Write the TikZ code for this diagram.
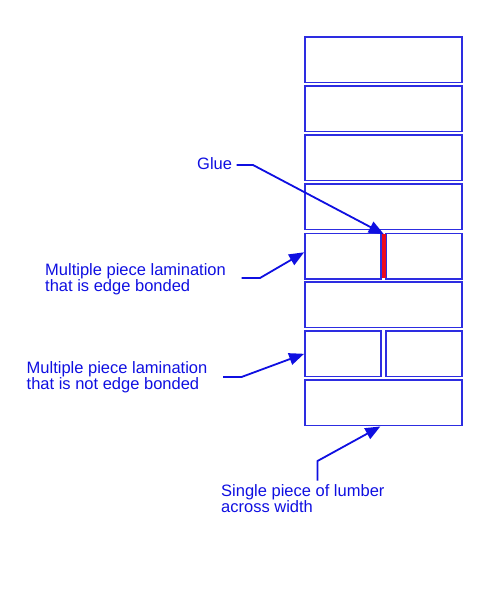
\documentclass[tikz,border=0pt]{standalone}
\usepackage{fontspec}
\setmainfont{Liberation Sans}
\usetikzlibrary{arrows.meta,calc}
\definecolor{lineblue}{RGB}{15,15,225}
\definecolor{boxblue}{RGB}{45,45,225}
\definecolor{gluered}{RGB}{235,10,30}
\begin{document}
\begin{tikzpicture}[x=1pt,y=-1pt,
  board/.style={draw=boxblue,line width=1.8pt,fill=white,inner sep=0pt,minimum height=45.5pt},
  full/.style={board,minimum width=156.7pt},
  half/.style={board,minimum width=76pt},
  label/.style={text=lineblue,anchor=north west,inner sep=0pt,align=left,font=\fontsize{16.5}{15}\selectfont},
  leader/.style={draw=lineblue,line width=1.8pt,-{Triangle[length=15pt,width=12pt]}}]
\useasboundingbox (0,0) rectangle (477,592);
% boards
\node[full] (b1) at (383.35,59.8) {};
\node[full] (b2) at (383.35,108.8) {};
\node[full] (b3) at (383.35,157.8) {};
\node[full] (b4) at (383.35,206.8) {};
\node[half] (b5l) at (343,256.3) {};
\node[half] (b5r) at (424,256.3) {};
\node[fill=gluered,inner sep=0pt,minimum width=4pt,minimum height=44pt] (glue) at (383.8,256.3) {};
\node[full] (b6) at (383.35,304.8) {};
\node[half] (b7l) at (343,353.8) {};
\node[half] (b7r) at (424,353.8) {};
\node[full] (b8) at (383.35,402.8) {};
% labels
\node[label] (tglue) at (197,157.5) {Glue};
\node[label] (tedge) at (45,263) {Multiple piece lamination\\that is edge bonded};
\node[label] (tnot) at (26.5,361) {Multiple piece lamination\\that is not edge bonded};
\node[label] (tsingle) at (221,484) {Single piece of lumber\\across width};
% leader lines
\coordinate (g0) at (236.5,165);
\coordinate (g1) at (253,165);
\draw[leader] (g0) -- (g1) -- (glue.north);
\coordinate (e0) at (241.5,278);
\coordinate (e1) at (260,278);
\draw[leader] (e0) -- (e1) -- ([yshift=4pt]b5l.west);
\coordinate (n0) at (223,377);
\coordinate (n1) at (241.5,377);
\draw[leader] (n0) -- (n1) -- (b7l.west);
\coordinate (s0) at (317.5,480.5);
\coordinate (s1) at (317.5,461);
\draw[leader] (s0) -- (s1) -- ([xshift=-3pt]b8.south);
\end{tikzpicture}
\end{document}
